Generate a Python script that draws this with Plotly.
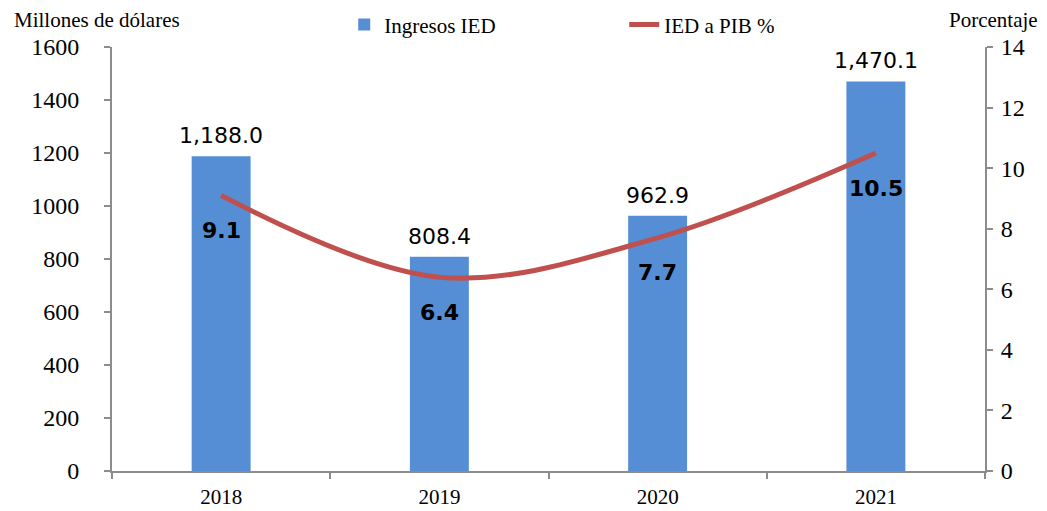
import plotly.graph_objects as go

years = ["2018", "2019", "2020", "2021"]
ingresos_ied = [1188.0, 808.4, 962.9, 1470.1]
ied_pib = [9.1, 6.4, 7.7, 10.5]

serif = "Liberation Serif"
sans = "DejaVu Sans"
axis_col = "#8c8c8c"

fig = go.Figure()
fig.add_trace(go.Bar(
    x=years, y=ingresos_ied, name="Ingresos IED",
    marker=dict(color="#558ED5", line=dict(width=0)),
    width=0.27,
))
fig.add_trace(go.Scatter(
    x=years, y=ied_pib, name="IED a PIB %", yaxis="y2",
    mode="lines", line=dict(color="#C0504D", width=5, shape="spline", smoothing=1.0),
))
# bar value labels (category index used as x on the category axis)
for i, v in enumerate(ingresos_ied):
    fig.add_annotation(x=i, y=v, xref="x", yref="y", text=f"{v:,.1f}", showarrow=False,
                       yanchor="bottom", yshift=6,
                       font=dict(family=sans, size=22, color="black"))
# line value labels
for i, v in enumerate(ied_pib):
    fig.add_annotation(x=i, y=v, xref="x", yref="y2", text=f"<b>{v:.1f}</b>", showarrow=False,
                       yshift=-35, font=dict(family=sans, size=22, color="black"))

fig.add_annotation(x=0, y=1, xref="paper", yref="paper", xanchor="left", yanchor="middle",
                   xshift=-100, yshift=27, text="Millones de dólares", showarrow=False,
                   font=dict(family=serif, size=21, color="black"))
fig.add_annotation(x=1, y=1, xref="paper", yref="paper", xanchor="right", yanchor="middle",
                   xshift=55, yshift=27, text="Porcentaje", showarrow=False,
                   font=dict(family=serif, size=21, color="black"))

fig.update_layout(
    width=1039, height=503,
    margin=dict(l=104, r=62, t=39, b=40, autoexpand=False),
    plot_bgcolor="white", paper_bgcolor="white",
    showlegend=True,
    legend=dict(orientation="h", x=0.266, y=1.052, xanchor="left", yanchor="middle",
                font=dict(family=serif, size=21, color="black"),
                entrywidth=235, entrywidthmode="pixels", traceorder="normal"),
    xaxis=dict(type="category", categoryorder="array", categoryarray=years,
               range=[-0.5, len(years) - 0.5], autorange=False,
               showline=True, linecolor=axis_col, linewidth=2, ticks="outside",
               tickson="boundaries", ticklen=6, tickcolor=axis_col, tickwidth=2, tickangle=0,
               ticklabelstandoff=6,
               tickfont=dict(family=serif, size=21, color="black"), showgrid=False),
    yaxis=dict(range=[0, 1600], dtick=200, showline=True, linecolor=axis_col, linewidth=2,
               ticks="outside", ticklen=6, tickcolor=axis_col, tickwidth=2, showgrid=False,
               ticklabelstandoff=20,
               tickfont=dict(family=serif, size=24, color="black"), zeroline=False),
    yaxis2=dict(range=[0, 14], dtick=2, overlaying="y", side="right", showline=True,
                linecolor=axis_col, linewidth=2, ticks="outside", ticklen=6,
                tickcolor=axis_col, tickwidth=2, showgrid=False, ticklabelstandoff=3,
                tickfont=dict(family=serif, size=24, color="black"), zeroline=False),
)

fig.write_html("out.html")
